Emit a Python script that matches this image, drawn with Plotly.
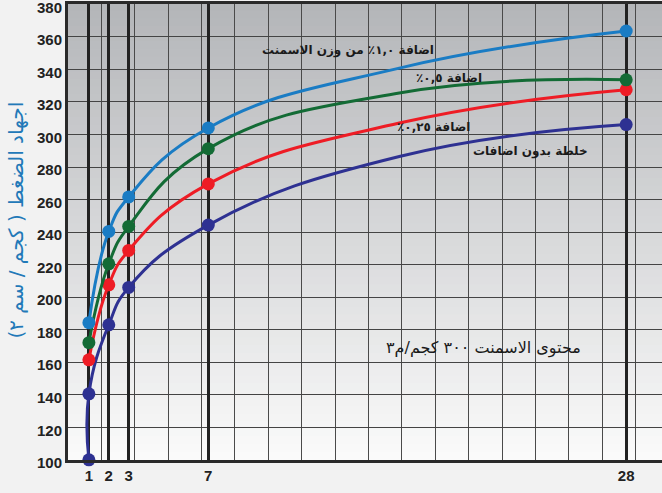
import plotly.graph_objects as go

# ---- data: measured ages (days) and strengths (kg/cm2) ----
days = [1, 2, 3, 7, 28]
days_plain = [1, 1, 2, 3, 7, 28]
s_10 = [184.3, 240.4, 261.6, 304.0, 363.6]    # 1.0 %
s_05 = [172.0, 220.5, 243.5, 291.3, 333.6]    # 0.5 %
s_025 = [161.5, 207.6, 228.7, 269.6, 327.5]   # 0.25 %
s_plain = [100.0, 140.6, 183.0, 206.0, 244.3, 306.1]  # no additive

# ---- curve reading between 7 and 28 days ----
mid_days = [16.6]
c_10 = [340.8]
c_05 = [325.5]
c_025 = [307.0]
c_plain = [286.5]

y_ticks = list(range(100, 381, 20))

series = [
    (days_plain, s_plain, c_plain, "#2e3192"),
    (days, s_025, c_025, "#ee1c25"),
    (days, s_05, c_05, "#136b35"),
    (days, s_10, c_10, "#1a7cc4"),
]

fig = go.Figure()
# dummy trace for the base (thin-grid) axis
fig.add_trace(go.Scatter(x=[], y=[], xaxis="x", yaxis="y", showlegend=False))
for xs, ys, cs, col in series:
    pts = sorted(list(zip(xs, ys)) + list(zip(mid_days, cs)), key=lambda p: (p[0], p[1]))
    fig.add_trace(go.Scatter(
        x=[p[0] for p in pts], y=[p[1] for p in pts], xaxis="x2", yaxis="y",
        mode="lines", line=dict(color=col, width=3, shape="spline", smoothing=1.3),
        showlegend=False, hoverinfo="skip", cliponaxis=False))
    fig.add_trace(go.Scatter(
        x=xs, y=ys, xaxis="x2", yaxis="y", mode="markers",
        marker=dict(color=col, size=13), showlegend=False, cliponaxis=False))

# vertical gradient background
n = 60
top = (0xb4, 0xb6, 0xb9)
bot = (0xfa, 0xfa, 0xfa)
shapes = []
for i in range(n):
    t = i / (n - 1)
    c = tuple(round(top[k] + (bot[k] - top[k]) * t) for k in range(3))
    shapes.append(dict(type="rect", xref="paper", yref="paper", x0=0, x1=1,
                       y0=1 - (i + 1) / n, y1=1 - i / n + 0.002, layer="below",
                       line=dict(width=0), fillcolor="rgb(%d,%d,%d)" % c))

xr = [-0.05, 29.8]
fig.update_layout(
    width=662, height=493,
    margin=dict(l=68, r=0, t=4, b=33),
    paper_bgcolor="#f2f2f2", plot_bgcolor="rgba(0,0,0,0)",
    shapes=shapes,
    xaxis=dict(range=xr, tick0=-0.05, dtick=1.678, showgrid=True,
               gridcolor="#4a4a4a", gridwidth=1, showticklabels=False,
               zeroline=False, ticks="", automargin=False),
    xaxis2=dict(range=xr, overlaying="x", side="bottom", tickvals=days,
                ticktext=[str(d) for d in days], showgrid=True,
                gridcolor="#222222", gridwidth=3, zeroline=False,
                showline=True, linecolor="#2a2a2a", linewidth=3, mirror=True,
                ticks="", automargin=False, ticklabeloverflow="allow",
                tickfont=dict(family="Liberation Sans", size=15,
                              color="#222222", weight="bold")),
    yaxis=dict(range=[99.9, 380.2], tickvals=y_ticks, showgrid=True,
               gridcolor="#444444", gridwidth=1, zeroline=False,
               showline=True, linecolor="#2a2a2a", linewidth=3, ticks="",
               ticklabelshift=3, automargin=False, ticklabeloverflow="allow",
               tickfont=dict(family="Liberation Sans", size=15,
                             color="#222222", weight="bold")),
)

RLM = "\u200f"
ann_font = dict(family="DejaVu Sans", size=12, color="#1a1a1a", weight="bold")
labels = [
    ("اضافة ١,٠٪ من وزن الاسمنت", 14.0, 351.5),
    ("اضافة ٠,٥٪", 19.1, 334.8),
    ("اضافة ٠,٢٥٪", 18.3, 304.7),
    ("خلطة بدون اضافات", 23.2, 289.3),
]
for txt, xx, yy in labels:
    fig.add_annotation(text=RLM + txt + RLM, x=xx, y=yy, xref="x2", yref="y",
                       showarrow=False, font=ann_font)
fig.add_annotation(text=RLM + "محتوى الاسمنت ٣٠٠ كجم/م٣" + RLM, x=20.85, y=168.8,
                   xref="x2", yref="y", showarrow=False,
                   font=dict(family="DejaVu Sans", size=16, color="#1a1a1a"))
fig.add_annotation(text=RLM + "اجهاد الضغط ( كجم / سم ٢)" + RLM, textangle=-90,
                   x=(16 - 68) / 594, y=0.525, xref="paper", yref="paper",
                   xanchor="center", yanchor="middle", showarrow=False,
                   font=dict(family="DejaVu Sans", size=20, color="#2279b8"))

fig.write_html("out.html", config={"displayModeBar": False},
               post_script="document.body.style.margin='0';")
